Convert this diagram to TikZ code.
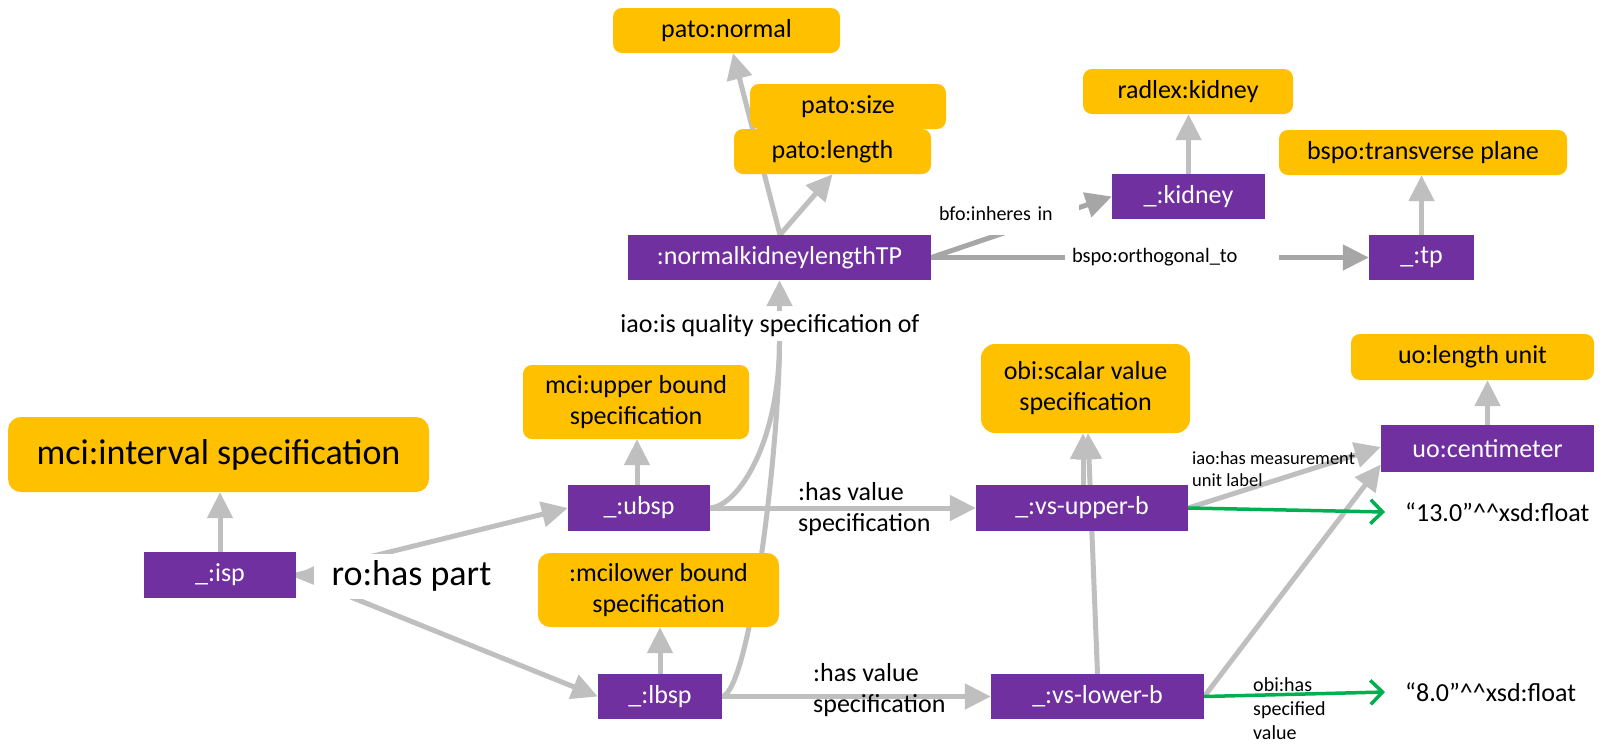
\documentclass[tikz,border=0pt]{standalone}
\usepackage{fontspec}
\setmainfont{Carlito}
\usetikzlibrary{arrows.meta}
\definecolor{orn}{HTML}{FFC000}
\definecolor{pur}{HTML}{7030A0}
\definecolor{lg}{HTML}{BFBFBF}
\definecolor{dg}{HTML}{A6A6A6}
\definecolor{grn}{HTML}{00B050}
\pgfdeclarelayer{bg}
\pgfsetlayers{bg,main}
\begin{document}
\begin{tikzpicture}[x=1pt,y=-1pt,
  cls/.style={fill=orn, rounded corners=9pt, text=black, inner sep=0pt, font=\fontsize{26}{31}\selectfont, align=center},
  ind/.style={fill=pur, text=white, inner sep=0pt, font=\fontsize{26}{31}\selectfont},
  ga/.style={draw=lg, line width=5pt, -{Triangle[length=26pt,width=25pt]}},
  da/.style={draw=dg, line width=5pt, -{Triangle[length=26pt,width=25pt]}},
  gl/.style={draw=lg, line width=5pt},
  gr/.style={draw=grn, line width=3.5pt, -{Straight Barb[length=12pt,width=24pt]}},
  lbl/.style={inner sep=0pt, text=black},
  mid/.style={font=\fontsize{26}{31}\selectfont},
]
\useasboundingbox (0,0) rectangle (1602,745);
% class nodes
\node[cls, minimum width=227pt, minimum height=45pt] (n_normal) at (726.5,30.5) {pato:normal};
\node[cls, minimum width=196pt, minimum height=45pt] (n_size) at (848,106.5) {pato:size};
\node[cls, minimum width=197pt, minimum height=45pt] (n_length) at (832.5,151.5) {pato:length};
\node[cls, minimum width=210pt, minimum height=45pt] (n_radlex) at (1188,91.5) {radlex:kidney};
\node[cls, minimum width=288pt, minimum height=45pt] (n_transverse) at (1423,152.5) {bspo:transverse plane};
\node[cls, minimum width=226pt, minimum height=74pt] (n_upper) at (636,402) {mci:upper bound\\specification};
\node[cls, minimum width=209pt, minimum height=89pt, rounded corners=14pt] (n_scalar) at (1085.5,388.5) {obi:scalar value\\specification};
\node[cls, minimum width=243pt, minimum height=46pt] (n_lenunit) at (1472.5,357) {uo:length unit};
\node[cls, minimum width=421pt, minimum height=75pt, rounded corners=13pt, font=\fontsize{36}{43}\selectfont] (n_interval) at (218.5,454.5) {mci:interval specification};
\node[cls, minimum width=241pt, minimum height=74pt, rounded corners=12pt] (n_lower) at (658.5,590) {:mcilower bound\\specification};
% individual nodes
\node[ind, minimum width=303pt, minimum height=45pt] (n_TP) at (779.5,257.5) {:normalkidneylengthTP};
\node[ind, minimum width=153pt, minimum height=45pt] (n_kidney) at (1188.5,196.5) {\_:kidney};
\node[ind, minimum width=105pt, minimum height=45pt] (n_tp) at (1421.5,257.5) {\_:tp};
\node[ind, minimum width=213pt, minimum height=47pt] (n_cm) at (1487.5,448.5) {uo:centimeter};
\node[ind, minimum width=142pt, minimum height=46pt] (n_ubsp) at (639,508) {\_:ubsp};
\node[ind, minimum width=212pt, minimum height=46pt] (n_vsup) at (1082,508) {\_:vs-upper-b};
\node[ind, minimum width=152pt, minimum height=46pt] (n_isp) at (220,575) {\_:isp};
\node[ind, minimum width=124pt, minimum height=45pt] (n_lbsp) at (660,696.5) {\_:lbsp};
\node[ind, minimum width=213pt, minimum height=45pt] (n_vslow) at (1097.5,696.5) {\_:vs-lower-b};
% literal values
\node[lbl, mid, anchor=west] (n_f13) at (1405,512) {“13.0”\textasciicircum\textasciicircum xsd:float};
\node[lbl, mid, anchor=west] (n_f8) at (1405,692) {“8.0”\textasciicircum\textasciicircum xsd:float};
% edge labels
\node[lbl, font=\fontsize{36}{43}\selectfont, fill=white, minimum height=45pt, inner xsep=18pt] (n_hp) at (411.5,576) {ro:has part};
\node[lbl, mid, fill=white, inner xsep=3pt, inner ysep=4pt] (n_iqs) at (770,326) {iao:is quality specification of};
\node[lbl, font=\fontsize{20}{24}\selectfont, fill=white, text width=140pt, align=left, minimum height=42pt] (n_inh) at (1009,214) {bfo:inheres in};
\node[lbl, font=\fontsize{20.5}{24}\selectfont, fill=white, text width=200pt, align=left, minimum height=30pt, inner xsep=7pt] (n_orth) at (1172,257) {bspo:orthogonal\_to};
\node[lbl, mid, align=left, anchor=west] (n_hv1) at (798,509) {:has value\\specification};
\node[lbl, mid, align=left, anchor=west] (n_hv2) at (813,690) {:has value\\specification};
\node[lbl, font=\fontsize{18.5}{22}\selectfont, align=left, anchor=west] (n_meas) at (1192,469) {iao:has measurement\\unit label};
\node[lbl, font=\fontsize{20}{24}\selectfont, align=left, anchor=west] (n_obi) at (1253,709) {obi:has\\specified\\value};
% edges
\begin{pgfonlayer}{bg}
\fill[white] (0,0) rectangle (1602,745);
\draw[ga] ([xshift=0.5pt]n_TP.north) -- ([xshift=6.5pt]n_normal.south);
\draw[ga] ([xshift=0.5pt]n_TP.north) -- (n_length.south);
\draw[ga] (n_kidney.north) -- (n_kidney.north |- n_radlex.south);
\draw[ga] (n_tp.north) -- (n_tp.north |- n_transverse.south);
\draw[da] (n_TP.east) -- (n_kidney.west);
\draw[da] (n_TP.east) -- (n_tp.west);
\coordinate (q) at ([yshift=-63pt]n_TP.south);
\draw[gl] (n_ubsp.east) .. controls (740,505) and (779,440) .. (q);
\draw[gl] (n_lbsp.east) .. controls (750,690) and (779,450) .. (q);
\draw[ga] (q) -- (n_TP.south);
\draw[ga] ([xshift=-2pt]n_ubsp.north) -- ([xshift=-2pt]n_ubsp.north |- n_upper.south);
\draw[ga] (n_lbsp.north) -- (n_lbsp.north |- n_lower.south);
\draw[ga] (n_isp.north) -- (n_isp.north |- n_interval.south);
\draw[ga] (n_isp.east) -- (n_ubsp.west);
\draw[ga] (n_isp.east) -- (n_lbsp.west);
\draw[ga] ([xshift=30pt]n_isp.east) -- (n_isp.east);
\draw[ga] (n_ubsp.east) -- (n_vsup.west);
\draw[ga] (n_lbsp.east) -- (n_vslow.west);
\draw[ga] (n_vslow.north) -- ([xshift=2.5pt]n_scalar.south);
\draw[ga] ([xshift=1pt]n_vsup.north) -- ([xshift=-2.5pt]n_scalar.south);
\draw[ga] (n_vsup.east) -- ([yshift=1.5pt]n_cm.west);
\draw[ga] (n_vslow.east) -- ([yshift=-16pt]n_cm.west);
\draw[ga] (n_cm.north) -- (n_cm.north |- n_lenunit.south);
\draw[gr] (n_vsup.east) -- ([xshift=-20pt]n_f13.west);
\draw[gr] (n_vslow.east) -- ([xshift=-20pt]n_f8.west);
\end{pgfonlayer}
\end{tikzpicture}
\end{document}
